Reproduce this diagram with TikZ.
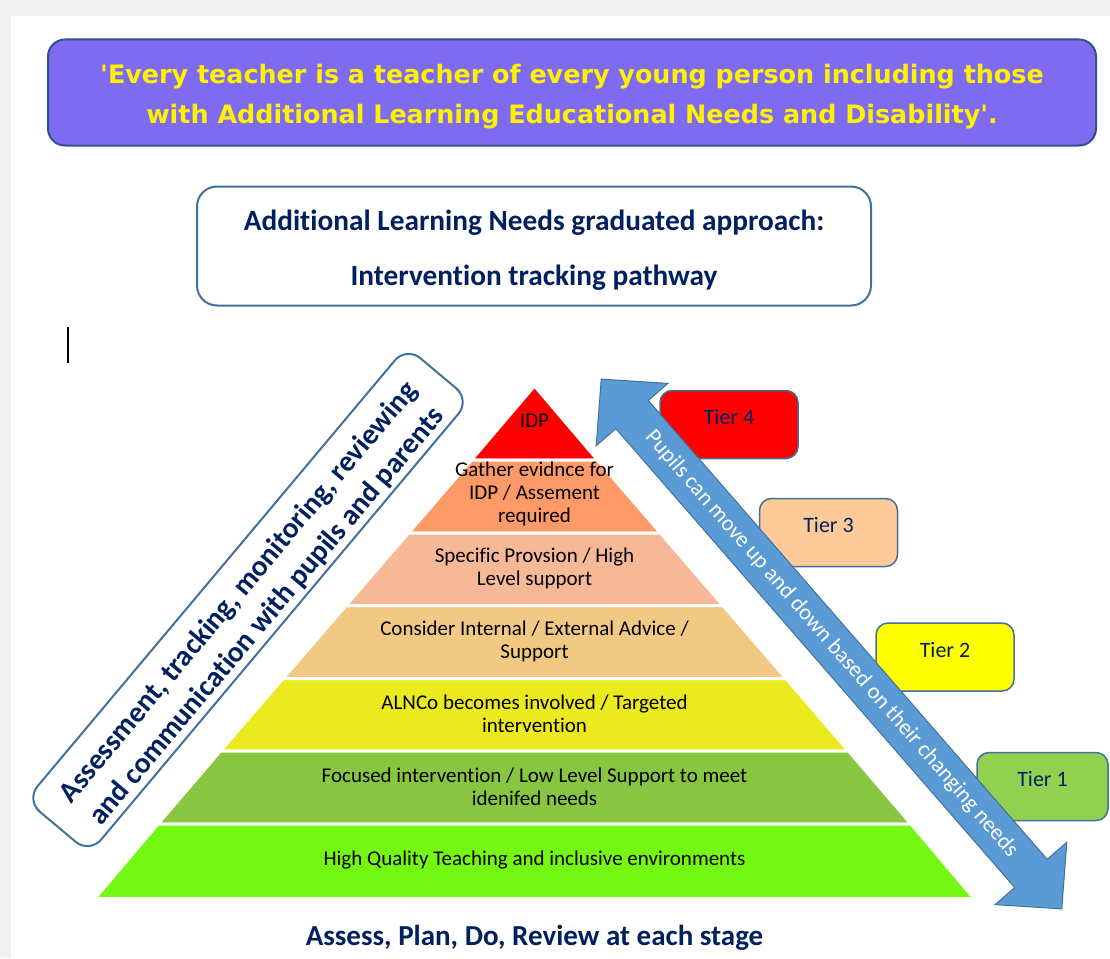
\documentclass[tikz,border=0pt]{standalone}
\usepackage{fontspec}
\setmainfont{Carlito}[Ligatures=NoCommon]
\newfontfamily\quotefont{DejaVu Sans}
\definecolor{pagegray}{HTML}{F0F0F0}
\definecolor{quotefill}{HTML}{7F6BEF}
\definecolor{quoteline}{HTML}{2F528F}
\definecolor{navy}{HTML}{002060}
\definecolor{boxline}{HTML}{41719C}
\definecolor{arrowblue}{HTML}{5B9BD5}
\definecolor{idpred}{HTML}{FF0000}
\definecolor{gatherorange}{HTML}{FD9A68}
\definecolor{specificpeach}{HTML}{F7B897}
\definecolor{considertan}{HTML}{F1C983}
\definecolor{alncoyellow}{HTML}{EBEA1F}
\definecolor{focusedgreen}{HTML}{88C541}
\definecolor{qualitygreen}{HTML}{74F813}
\definecolor{tierpeach}{HTML}{FFCA99}
\definecolor{tieryellow}{HTML}{FFFF00}
\definecolor{tiergreen}{HTML}{92D050}
\begin{document}
\begin{tikzpicture}[x=1pt,y=-1pt,
  pyrband/.style={draw=white, line width=3pt},
  pyrtext/.style={align=center, inner sep=0pt, font=\fontsize{21}{23}\selectfont},
  tierbox/.style={draw=boxline, line width=1.5pt, rounded corners=12pt, inner sep=0pt,
    minimum width=138pt, minimum height=68pt, text=navy,
    text height=15pt, text depth=15pt, font=\fontsize{22}{26}\selectfont}]
\useasboundingbox (0,0) rectangle (1110,958);
\fill[pagegray] (0,0) rectangle (1110,958);
\fill[white] (11,16) rectangle (1110,958);% page
\node[draw=quoteline, line width=2pt, fill=quotefill, rounded corners=17pt,
  minimum width=1048pt, minimum height=106pt] (quotebox) at (572,92.5) {};
\node[align=center, text=yellow, font=\quotefont\bfseries\fontsize{25.4}{40}\selectfont]
  (quote) at (572,97)
  {'Every teacher is a teacher of every young person including those\\with Additional Learning Educational Needs and Disability'.};
\node[draw=boxline, line width=2pt, rounded corners=20pt, minimum width=674pt,
  minimum height=119pt] (titlebox) at (534,246) {};
\node[align=center, text=navy, font=\bfseries\fontsize{29.3}{55}\selectfont]
  (title) at (534,250.5)
  {Additional Learning Needs graduated approach:\\Intervention tracking pathway};
\draw[line width=1.5pt] (68,327) -- (68,363);% cursor
\node[draw=boxline, line width=2pt, rounded corners=18pt, fill=white, rotate=50,
  minimum width=592pt, minimum height=83pt] (reviewbox) at (248,600) {};
\node[rotate=50, align=center, text=navy, font=\bfseries\fontsize{29.3}{37}\selectfont]
  (review) at (253,604.5)
  {Assessment, tracking, monitoring, reviewing\\and communication with pupils and parents};
% pyramid
\coordinate (Apex) at (534.5,386);
\filldraw[pyrband, fill=idpred] (Apex) -- (597.5,460) -- (471.5,460) -- cycle;
\filldraw[pyrband, fill=gatherorange] (471.5,460) -- (597.5,460) -- (660.5,533) -- (408.5,533) -- cycle;
\filldraw[pyrband, fill=specificpeach] (408.5,533) -- (660.5,533) -- (723,605.5) -- (346,605.5) -- cycle;
\filldraw[pyrband, fill=considertan] (346,605.5) -- (723,605.5) -- (786,678.5) -- (283,678.5) -- cycle;
\filldraw[pyrband, fill=alncoyellow] (283,678.5) -- (786,678.5) -- (848.5,751) -- (220.5,751) -- cycle;
\filldraw[pyrband, fill=focusedgreen] (220.5,751) -- (848.5,751) -- (911,824) -- (158,824) -- cycle;
\filldraw[pyrband, fill=qualitygreen] (158,824) -- (911,824) -- (974,898.5) -- (95,898.5) -- cycle;
\node[pyrtext] (idp) at (534.5,421) {IDP};
\node[pyrtext] (gather) at (534.5,494) {Gather evidnce for\\IDP / Assement\\required};
\node[pyrtext] (specific) at (534.5,568) {Specific Provsion / High\\Level support};
\node[pyrtext] (consider) at (534.5,641.5) {Consider Internal / External Advice /\\Support};
\node[pyrtext] (alnco) at (534.5,714) {ALNCo becomes involved / Targeted\\intervention};
\node[pyrtext] (focused) at (534.5,787) {Focused intervention / Low Level Support to meet\\idenifed needs};
\node[pyrtext] (quality) at (534.5,860) {High Quality Teaching and inclusive environments};
% tiers
\node[tierbox, fill=idpred] (tier4) at (729,424.5) {Tier 4};
\node[tierbox, fill=tierpeach] (tier3) at (828.5,532.5) {Tier 3};
\node[tierbox, fill=tieryellow] (tier2) at (945,657) {Tier 2};
\node[tierbox, fill=tiergreen, minimum width=131pt] (tier1) at (1042.5,786.5) {Tier 1};
% two-way arrow
\begin{scope}[shift={(831.5,644)}, rotate=-49]
\filldraw[fill=arrowblue, draw=boxline, line width=1pt]
  (-351,0) -- (-304,47.5) -- (-304,21.5) -- (304,21.5) -- (304,47.5) -- (351,0)
  -- (304,-47.5) -- (304,-21.5) -- (-304,-21.5) -- (-304,-47.5) -- cycle;
\node[rotate=-49, text=white, font=\fontsize{22.5}{26}\selectfont] (pupils) at (0,0)
  {Pupils can move up and down based on their changing needs};
\end{scope}
\node[text=navy, font=\bfseries\fontsize{29}{31}\selectfont] (apdr) at (534.5,938)
  {Assess, Plan, Do, Review at each stage};
\end{tikzpicture}
\end{document}
